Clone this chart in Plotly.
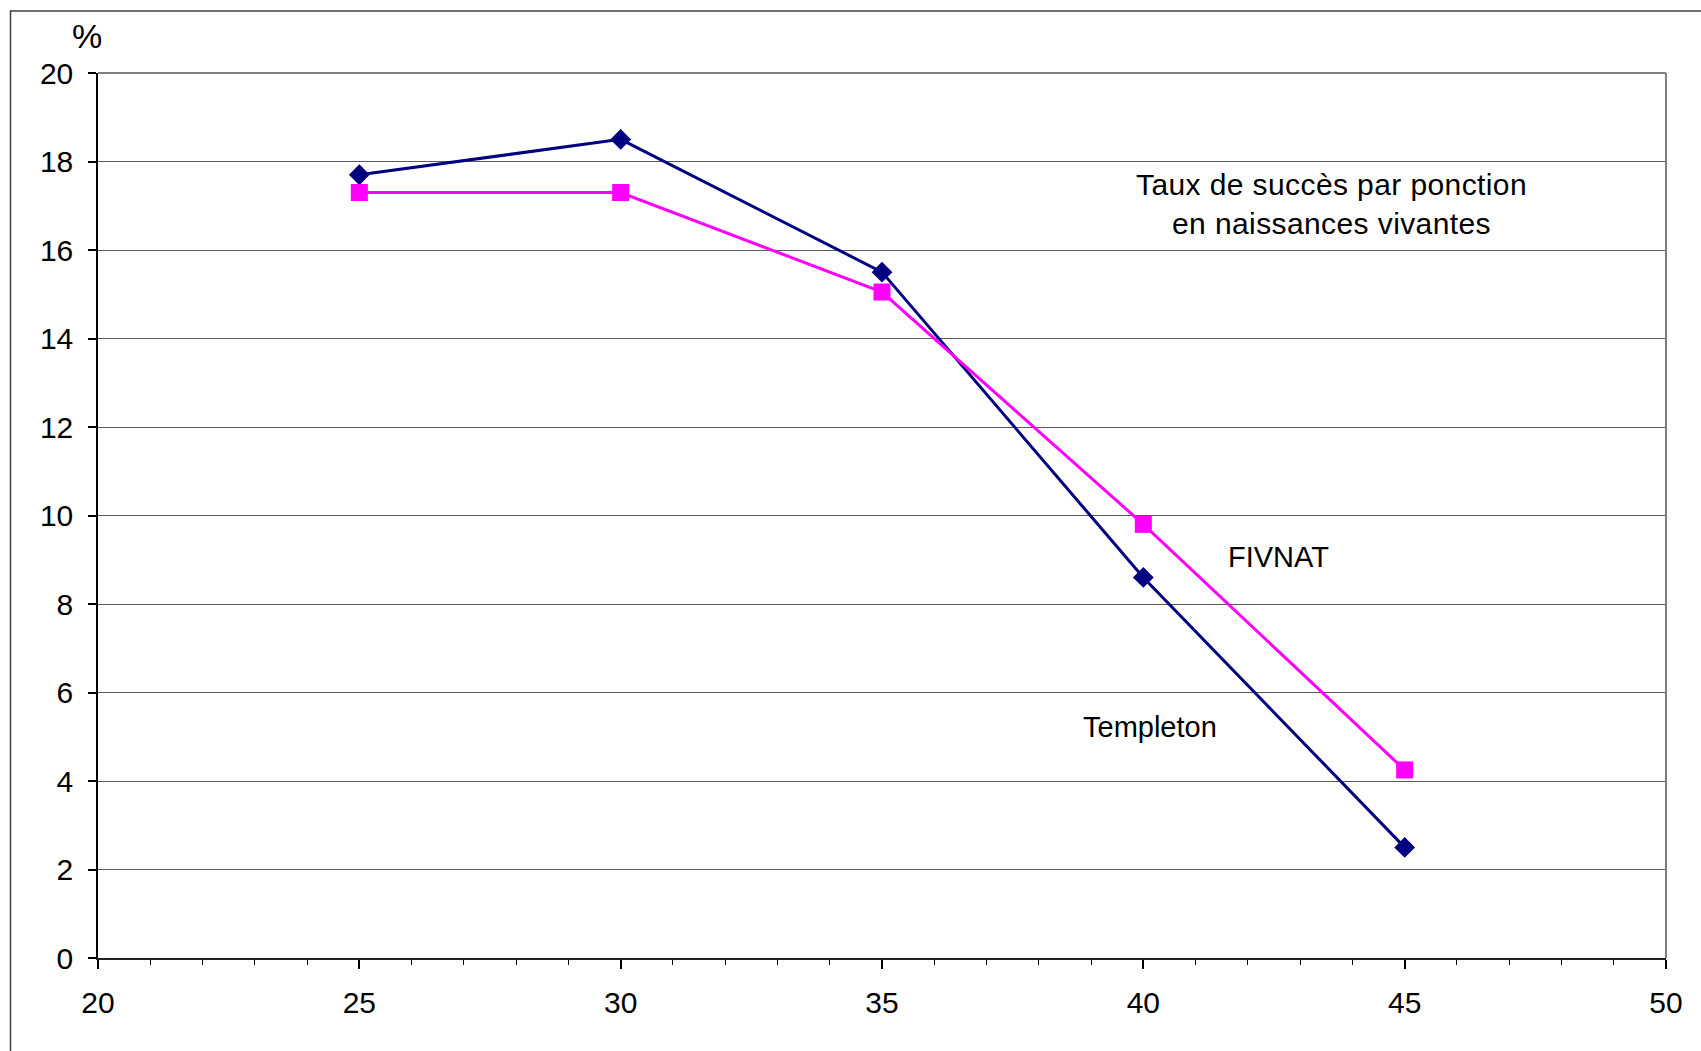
import plotly.graph_objects as go

# Data
ages = [25, 30, 35, 40, 45]
templeton = [17.7, 18.5, 15.5, 8.6, 2.5]
fivnat = [17.3, 17.3, 15.05, 9.8, 4.25]

x_ticks = [20, 25, 30, 35, 40, 45, 50]
y_ticks = [0, 2, 4, 6, 8, 10, 12, 14, 16, 18, 20]

FONT = "Liberation Sans, Arial, sans-serif"

fig = go.Figure()
fig.add_trace(go.Scatter(
    x=ages, y=templeton, name="Templeton", mode="lines+markers",
    line=dict(color="#000080", width=3),
    marker=dict(symbol="diamond", size=16, color="#000080"),
))
fig.add_trace(go.Scatter(
    x=ages, y=fivnat, name="FIVNAT", mode="lines+markers",
    line=dict(color="#FF00FF", width=3),
    marker=dict(symbol="square", size=17, color="#FF00FF"),
))

fig.update_layout(
    width=1701, height=1051,
    margin=dict(l=98, r=35, t=73, b=93, pad=0),
    paper_bgcolor="white", plot_bgcolor="white",
    showlegend=False,
    font=dict(family=FONT, color="black", size=29),
)

fig.update_xaxes(
    range=[20, 50], tickvals=x_ticks, ticktext=[str(v) for v in x_ticks],
    showgrid=False, zeroline=False,
    showline=True, linecolor="#202020", linewidth=2,
    ticks="outside", ticklen=9, tickwidth=1.5, tickcolor="black",
    minor=dict(ticks="outside", ticklen=5, dtick=1, tickwidth=1, tickcolor="black", showgrid=False),
    tickfont=dict(size=30, family=FONT, color="black"),
    ticklabelstandoff=8,
)
fig.update_yaxes(
    range=[0, 20], tickvals=y_ticks, ticktext=[str(v) for v in y_ticks],
    showgrid=True, gridcolor="#5a5a5a", gridwidth=1, zeroline=False,
    showline=True, linecolor="black", linewidth=1.5,
    ticks="outside", ticklen=8, tickwidth=1.5, tickcolor="black",
    tickfont=dict(size=30, family=FONT, color="black"),
    ticklabelstandoff=9,
)

# right/top border of plot area and outer frame
fig.add_shape(type="line", xref="paper", yref="paper", x0=1, x1=1, y0=0, y1=1,
              line=dict(color="#808080", width=2))
fig.add_shape(type="line", xref="paper", yref="paper", x0=0, x1=1, y0=1, y1=1,
              line=dict(color="#808080", width=2))
fig.add_shape(type="rect", xref="paper", yref="paper", x0=-0.0558, x1=1.2, y0=-0.3, y1=1.07,
              line=dict(color="#404040", width=1.5), fillcolor="rgba(0,0,0,0)")

fig.add_annotation(x=43.6, y=17.04, xref="x", yref="y", showarrow=False,
                   text="<span style='letter-spacing:0.4px'>Taux de succès par ponction</span><br>"
                        "<span style='letter-spacing:0.4px'>en naissances vivantes</span>",
                   font=dict(size=30, family=FONT, color="black"), align="center")
fig.add_annotation(x=42.58, y=9.07, xref="x", yref="y", showarrow=False,
                   text="FIVNAT",
                   font=dict(size=29, family=FONT, color="black"))
fig.add_annotation(x=40.13, y=5.22, xref="x", yref="y", showarrow=False,
                   text="Templeton",
                   font=dict(size=29, family=FONT, color="black"))
fig.add_annotation(x=-0.0067, y=1.0418, xref="paper", yref="paper", showarrow=False,
                   xanchor="center", yanchor="middle",
                   text="%", font=dict(size=34, family=FONT, color="black"))

fig.write_html("out.html")
